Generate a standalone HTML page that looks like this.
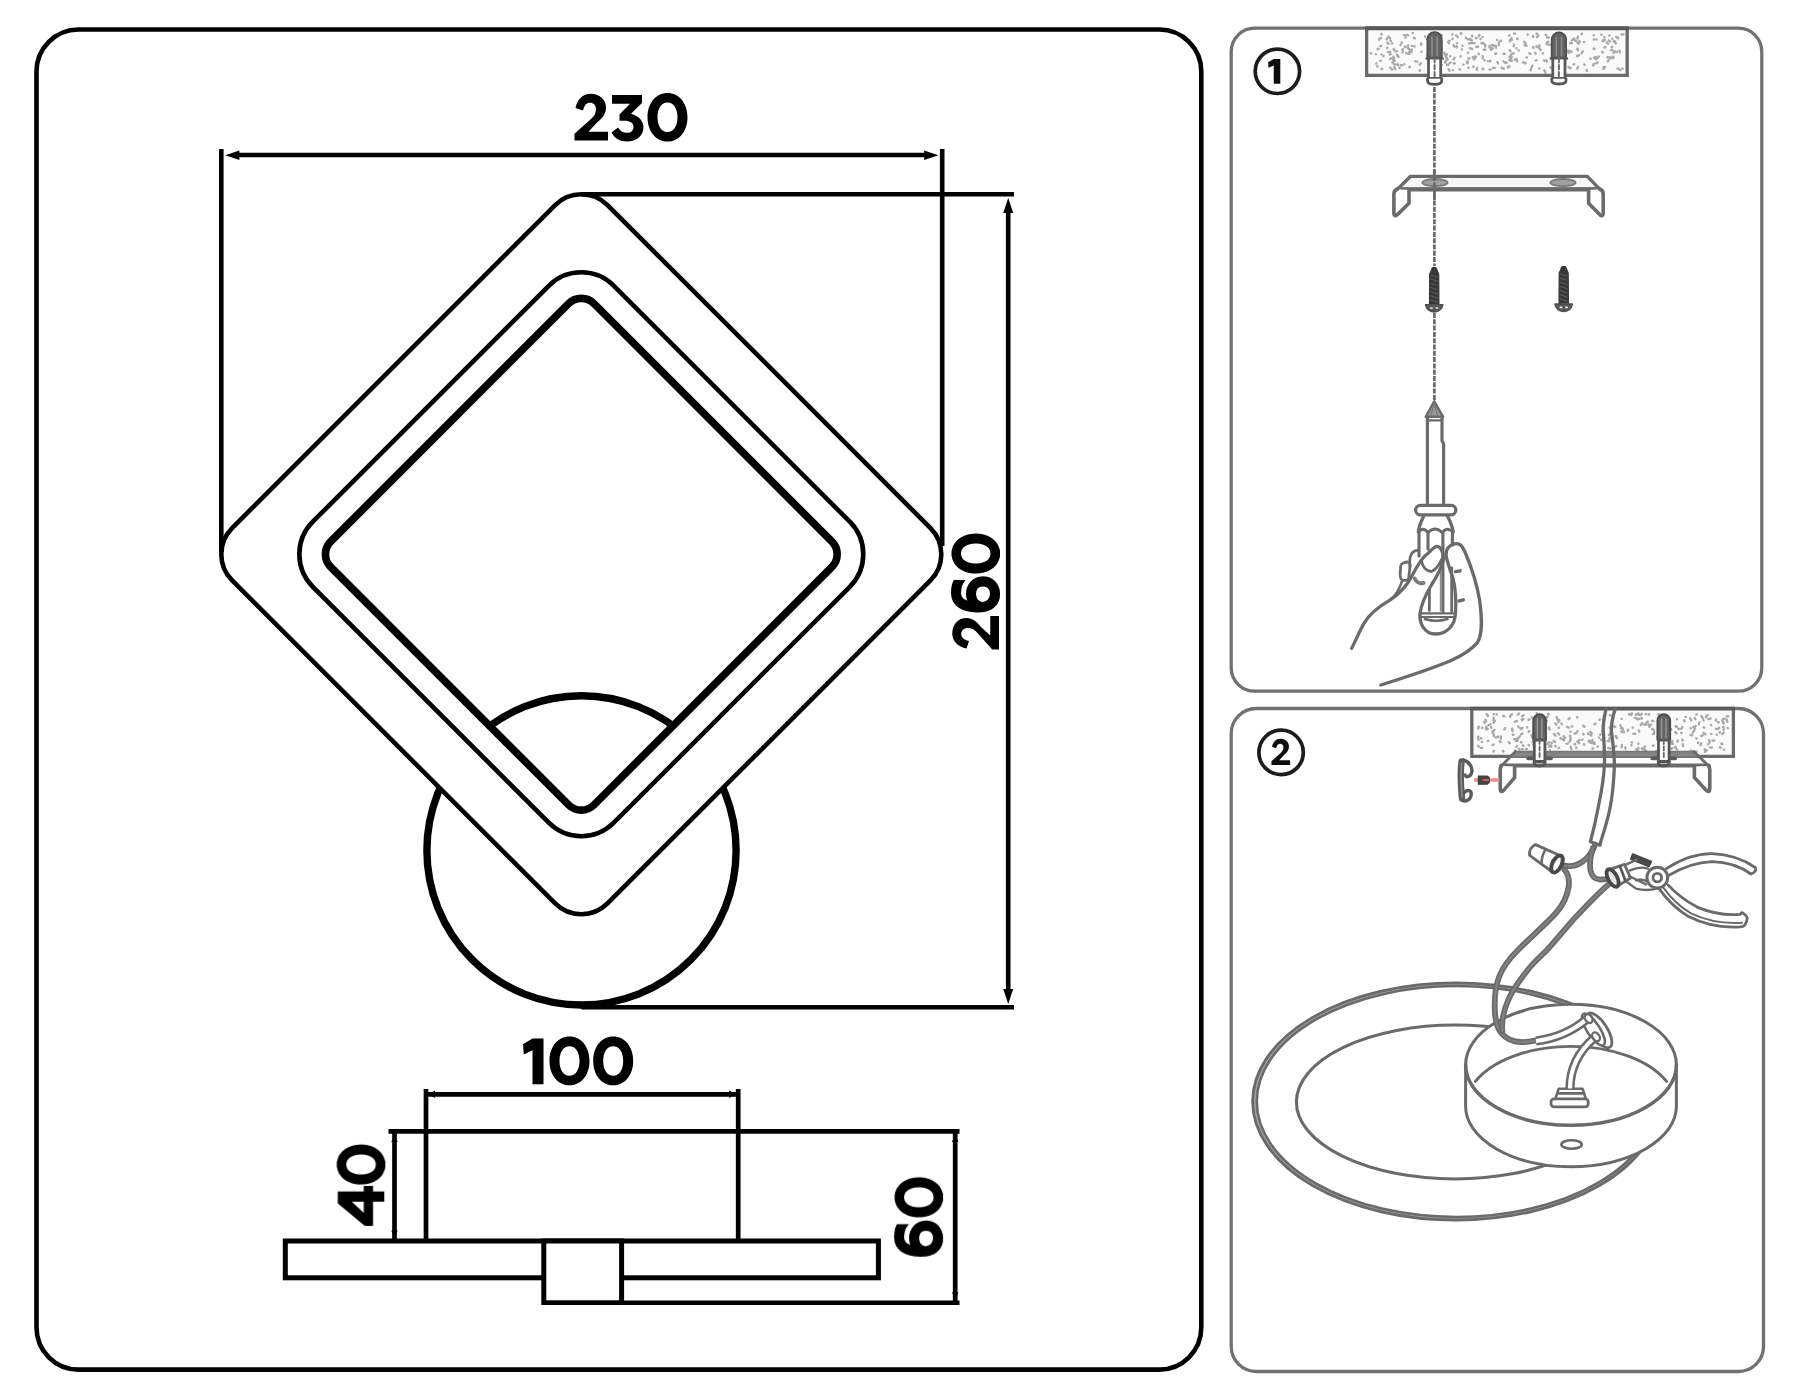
<!DOCTYPE html>
<html>
<head>
<meta charset="utf-8">
<title>Dimensions and installation</title>
<style>
html,body{margin:0;padding:0;background:#fff;}
body{width:1800px;height:1400px;overflow:hidden;font-family:"Liberation Sans",sans-serif;}
svg{display:block;position:absolute;left:0;top:0;}
</style>
</head>
<body>
<svg width="1800" height="1400" viewBox="0 0 1800 1400">
<defs>
  <!-- Gotham-like bold digits, origin at baseline-left -->
  <path id="g0" fill-rule="evenodd" d="M20,-47.6C31.5,-47.6 40,-37.5 40,-23.25C40,-9 31.5,1.1 20,1.1C8.5,1.1 0,-9 0,-23.25C0,-37.5 8.5,-47.6 20,-47.6ZM20,-38C14,-38 10,-32 10,-23.25C10,-14.5 14,-8.5 20,-8.5C26,-8.5 30,-14.5 30,-23.25C30,-32 26,-38 20,-38Z"/>
  <path id="g1" d="M9.5,-45.8H20.5V0H9.5V-34L0.8,-29.8L0,-40Z"/>
  <path id="g2" d="M1.5,-32.5C3,-41 9,-46.8 16.5,-46.8C25.5,-46.8 32,-41 32,-33C32,-27 29,-23 23,-18L14.5,-8.7H34V0H0.5V-6.8L17,-21.5C20.5,-24.5 22,-27.5 22,-31.5C22,-35 19.5,-37.7 16,-37.7C12.5,-37.7 10.5,-35.5 9,-30Z"/>
  <path id="g3" d="M0.5,-45.5H30.5V-37.5L19.5,-26.8C27,-24.8 32,-20 32,-13C32,-5 25,1 15.5,1C8.5,1 3,-2 0,-8L6.5,-13C8.5,-9.5 11.5,-7.7 15.5,-7.7C19.5,-7.7 22,-10 22,-13.5C22,-17.5 18.5,-19.7 13,-19.7H8V-26L18.5,-36.8H0.5Z"/>
  <path id="g4" fill-rule="evenodd" d="M22.5,-46.5H34.4V-20.5H40V-11.2H34.4V0H24.2V-11.2H0V-19.5ZM24.2,-32.5V-20.5H13Z"/>
  <clipPath id="c6"><path d="M-2,-52H32.6V-31H40V4H-2Z"/></clipPath>
  <g id="g6"><path clip-path="url(#c6)" fill="none" stroke="#000" stroke-width="10.2" d="M35.5,-37.4L32.5,-39.6C29,-42 24.5,-43 19.5,-43C10,-43 5.1,-34.5 5.1,-21C5.1,-10 10,-4 18.6,-4C26,-4 31.1,-9 31.1,-16C31.1,-23 26,-28 18.6,-28C12,-28 7,-24 5.5,-18"/></g>
  <filter id="soft" x="-2%" y="-2%" width="104%" height="104%"><feGaussianBlur stdDeviation="0.55"/></filter>
  <filter id="soft2" x="-1%" y="-1%" width="102%" height="102%"><feGaussianBlur stdDeviation="0.4"/></filter>
</defs>
<rect x="0" y="0" width="1800" height="1400" fill="#fff"/>

<!-- ============ LEFT: dimension drawing ============ -->
<g id="left" fill="none" stroke="#000" stroke-width="4.6" filter="url(#soft2)">
  <rect x="36.5" y="29.5" width="1164.8" height="1340.1" rx="42" ry="42"/>

  <!-- base disc -->
  <circle cx="581.5" cy="850.4" r="154.6" stroke-width="7.4"/>
  <!-- diamond band (opaque) -->
  <path fill="#fff" stroke="none" fill-rule="evenodd" d="M581.3,179.6L956,554.25L581.3,928.9L206.6,554.25ZM581.3,296L839.5,554.25L581.3,812.5L323,554.25Z"/>
  <g transform="rotate(45 581.3 554.25)">
    <rect x="315.9" y="288.85" width="530.8" height="530.8" rx="37"/>
    <rect x="368.45" y="341.4" width="425.7" height="425.7" rx="46"/>
    <rect x="395.1" y="368.05" width="372.4" height="372.4" rx="18" stroke-width="7.6"/>
  </g>

  <!-- 230 dimension -->
  <path d="M221.3,149V552"/>
  <path d="M942.2,149V546"/>
  <path d="M238,155H926"/>
  <path fill="#000" stroke="none" d="M225.2,155.2L239.4,150.4V160Z"/>
  <path fill="#000" stroke="none" d="M938.4,155.2L924.2,150.4V160Z"/>

  <!-- 260 dimension -->
  <path d="M581.3,194.3H1014"/>
  <path d="M581.5,1007.2H1014"/>
  <path d="M1008.2,211V990"/>
  <path fill="#000" stroke="none" d="M1008.2,198L1013.2,213H1003.2Z"/>
  <path fill="#000" stroke="none" d="M1008.2,1004L1013.2,989H1003.2Z"/>
</g>

<!-- side view -->
<g id="side" fill="none" stroke="#000" stroke-width="5" filter="url(#soft2)">
  <rect x="285.3" y="1241" width="593.1" height="36.8" fill="#fff"/>
  <rect x="543.8" y="1241" width="77.8" height="61.8" fill="#fff"/>
  <g stroke-width="4.7">
    <path d="M426,1089V1241"/>
    <path d="M738.2,1089V1241"/>
    <path d="M426,1094.3H738"/>
    <path d="M388.5,1131.4H959.5"/>
    <path d="M621.6,1302.8H959.5"/>
    <path d="M394.5,1131.4V1241"/>
    <path d="M955.2,1131.4V1302.8"/>
  </g>
  <g fill="#000" stroke="none">
    <path d="M428.4,1094.3L435,1090.6V1098Z"/>
    <path d="M735.8,1094.3L729.2,1090.6V1098Z"/>
    <path d="M394.5,1134L397.7,1142H391.3Z"/>
    <path d="M394.5,1238.5L397.7,1230.5H391.3Z"/>
    <path d="M955.2,1134L958.4,1142H952Z"/>
    <path d="M955.2,1300.3L958.4,1292.3H952Z"/>
  </g>
</g>

<!-- digits -->
<g id="digits" fill="#000" filter="url(#soft2)">
  <g transform="translate(574 140.5)"><use href="#g2"/><use href="#g3" x="37.5"/><use href="#g0" x="73.5"/></g>
  <g transform="translate(523 1084.2)"><use href="#g1"/><use href="#g0" x="26.5"/><use href="#g0" x="70.2"/></g>
  <g transform="translate(999 650) rotate(-90)"><use href="#g2"/><use href="#g6" x="37.5"/><use href="#g0" x="76.5"/></g>
  <g transform="translate(384.3 1225.9) rotate(-90)"><use href="#g4"/><use href="#g0" x="41.4"/></g>
  <g transform="translate(942.1 1256.8) rotate(-90)"><use href="#g6"/><use href="#g0" x="39.5"/></g>
</g>

<!--RIGHT-->
<g id="right" fill="none" stroke="#6b6b6b" stroke-width="3.3" stroke-linecap="round" stroke-linejoin="round" filter="url(#soft)">
<!-- panel 1 -->
<rect x="1231.2" y="28.2" width="530.6" height="663" rx="23.5" stroke-width="3.3" stroke="#717171"/>
<rect x="1366.6" y="28.4" width="260.6" height="47" fill="#fafafa" stroke="none"/>
<path d="M1452.6,38.7l-0.1,0.2M1578.0,36.6l-0.5,1.7M1425.1,36.3l0.1,0.4M1393.9,49.1l-0.2,0.1M1609.8,57.0l-0.1,0.2M1516.4,48.1l-0.2,0.0M1511.3,38.1l0.5,1.7M1400.7,44.7l-0.3,0.2M1397.0,54.7l0.2,0.1M1509.0,35.4l0.4,0.1M1496.1,53.2l-0.9,0.8M1518.6,50.2l0.2,0.3M1547.1,42.3l-0.4,1.8M1495.8,46.1l0.3,1.8M1618.0,37.5l0.2,0.8M1409.3,51.6l2.4,0.3M1390.6,54.2l-0.6,0.5M1456.7,46.3l0.0,1.2M1388.3,36.6l1.6,1.8M1538.4,35.3l-1.4,1.9M1516.6,58.9l0.4,2.4M1468.2,58.4l1.2,0.1M1460.6,56.2l0.0,0.4M1564.6,37.9l0.9,0.8M1602.0,51.9l1.0,0.6M1509.5,66.6l-1.5,1.0M1441.2,48.8l0.5,1.1M1612.3,38.7l0.3,0.2M1536.9,33.5l-0.3,0.2M1437.2,33.2l0.2,0.8M1524.7,45.1l1.7,0.7M1610.5,57.9l-0.8,0.9M1597.7,62.6l-1.7,0.7M1469.9,48.2l2.3,0.8M1471.9,40.2l-1.2,0.1M1411.9,45.9l0.2,0.0M1513.8,53.4l-1.8,0.3M1377.4,66.2l-0.1,0.4M1530.9,69.3l-0.4,1.1M1402.0,65.3l-1.2,0.0M1492.1,44.9l2.2,1.0M1457.3,43.1l-0.3,0.2M1501.1,40.8l-0.8,0.1M1407.9,53.6l1.8,0.2M1446.1,57.4l0.8,0.2M1501.6,67.5l0.2,0.4M1505.2,62.6l0.2,0.3M1525.5,63.0l-0.3,0.3M1574.1,64.1l-0.3,0.3M1421.4,51.7l-0.1,0.1M1570.1,50.9l1.5,1.0M1612.0,50.0l-0.8,0.2M1611.7,46.9l0.3,0.3M1489.5,45.8l0.1,1.8M1582.8,51.2l-1.1,2.1M1392.4,58.1l-2.3,0.7M1560.0,51.2l2.0,1.3M1454.8,63.4l-1.2,0.1M1487.7,61.2l0.4,0.1M1413.8,37.8l1.1,0.5M1574.2,38.6l-1.0,0.6M1536.6,46.3l-0.1,0.4M1376.4,63.4l-0.1,0.2M1503.7,68.5l0.1,0.4M1579.2,41.0l0.6,0.6M1497.3,62.0l0.9,1.5M1476.6,38.0l-0.8,0.2M1597.2,58.2l-1.5,1.0M1477.0,67.9l-0.0,1.8M1409.3,52.4l-0.4,0.2M1524.4,62.5l0.4,0.2M1490.3,60.6l-0.1,0.8M1542.9,53.2l0.0,0.2M1593.6,35.2l0.2,0.1M1565.6,52.3l-0.0,0.2M1482.7,56.3l-0.0,1.8M1421.2,43.5l-0.0,1.2M1499.0,42.4l-0.1,0.8M1603.5,66.9l1.0,0.7M1405.6,37.6l0.0,0.2M1540.1,49.3l0.6,0.5M1568.6,67.1l2.1,1.1M1533.2,46.9l0.3,0.3M1614.8,41.3l-1.2,0.2M1594.0,39.2l-0.2,0.3M1411.7,49.4l-0.0,0.8M1477.2,46.6l0.8,0.2M1375.9,54.1l0.0,0.2M1467.9,52.7l0.1,0.2M1399.4,67.9l0.2,0.1M1392.2,43.3l-0.4,0.1M1439.2,37.9l0.6,2.3M1577.4,42.8l1.6,0.8M1514.8,59.6l0.2,0.1M1572.5,40.0l-0.8,0.3M1607.5,57.1l-0.2,0.1M1524.3,41.5l0.1,0.1M1485.4,45.9l-0.1,0.8M1527.7,34.6l-0.1,0.2M1615.2,43.0l0.7,0.4M1529.4,53.2l1.0,0.7M1497.0,39.8l0.1,0.2M1621.6,34.4l1.8,0.1M1509.9,40.2l0.1,1.2M1397.8,64.1l0.3,1.2M1508.6,66.8l-0.8,0.1M1544.3,70.3l1.1,2.1M1554.7,38.3l-0.2,0.0M1581.9,33.5l-0.3,0.7M1479.5,35.1l-0.6,1.0M1590.4,58.5l0.3,0.3M1545.6,34.7l0.7,0.4M1483.3,43.0l-1.8,0.2M1452.5,34.3l-0.4,0.1M1460.9,33.0l0.4,1.1M1441.3,57.9l0.1,0.1M1393.9,64.0l1.6,0.8M1381.5,33.9l0.2,0.3M1392.3,69.4l-0.4,0.2M1536.7,60.2l-1.1,0.4M1563.6,60.4l0.0,0.8M1553.5,57.4l2.4,0.3M1595.8,56.8l-1.2,1.3M1406.1,52.9l-0.0,0.2M1579.3,55.2l-2.3,0.8M1611.9,57.4l0.2,0.1M1404.5,46.7l1.1,0.4M1511.7,56.9l-0.9,2.2M1432.6,43.0l0.0,0.2M1559.6,52.1l-0.3,2.4M1503.5,61.3l0.0,0.2M1584.2,41.9l-0.3,0.3M1557.4,70.1l0.0,1.2M1390.3,67.6l0.1,0.2M1526.5,57.4l0.4,0.1M1454.6,57.8l-1.0,1.5M1514.1,33.5l0.8,0.2M1616.1,36.8l0.9,0.8M1444.3,52.6l0.1,1.2M1564.3,70.7l-0.1,0.8M1617.5,68.6l1.2,0.1M1390.3,52.3l-0.8,0.0M1468.5,67.8l-0.2,0.0M1517.5,38.4l-0.1,0.8M1404.4,64.2l-0.0,0.2M1548.2,41.8l-1.1,0.4M1470.3,39.0l-2.4,0.4M1484.6,44.5l0.7,0.3M1465.8,37.6l0.4,0.7M1560.2,64.9l0.4,0.1M1550.7,67.3l0.5,0.6M1387.4,47.8l-0.2,0.1M1461.9,49.3l0.1,0.2M1441.7,35.0l-1.2,2.1M1606.8,42.5l1.2,1.3M1450.5,62.4l-0.9,0.7M1593.8,63.9l-0.7,1.6M1509.4,60.3l2.4,0.4M1474.5,56.4l0.7,0.3M1493.4,67.7l-0.1,0.4M1490.0,46.1l1.4,1.9M1557.2,57.8l0.1,0.4M1446.8,54.2l0.1,0.4M1533.1,35.9l-0.0,1.2M1509.7,50.2l0.6,1.0M1478.7,53.8l0.3,0.3M1457.2,36.5l0.6,0.5M1575.0,40.7l1.2,0.1M1467.5,61.3l0.6,0.5M1456.2,35.4l0.5,0.6M1402.7,52.1l-0.2,0.4M1394.3,67.1l0.9,2.2M1483.4,69.2l-0.2,0.1M1403.1,49.2l-0.9,0.8M1615.0,51.6l1.8,0.4M1586.6,69.9l0.1,0.1M1427.4,38.8l-0.2,0.0M1608.3,60.4l-0.5,1.1M1392.4,62.5l0.4,0.0M1429.6,68.0l-0.4,0.7M1613.5,56.8l-0.1,1.2M1547.0,37.3l1.8,0.4M1608.8,40.3l1.2,1.3M1371.3,53.4l-0.8,0.0M1612.7,57.5l-1.1,0.4M1503.6,53.8l1.2,0.1M1548.6,44.7l1.2,0.1M1594.0,57.6l0.4,0.1M1539.2,68.2l0.2,0.1M1546.3,60.3l0.5,1.1M1420.9,63.3l-1.2,1.3M1388.0,51.8l0.3,0.2M1429.2,41.4l-0.6,0.5M1398.5,56.7l-0.1,0.4M1493.2,67.6l1.8,0.3M1407.9,48.0l1.4,1.1M1406.8,35.0l1.2,0.2M1484.3,60.1l0.1,0.2M1622.4,68.4l0.2,0.3M1535.4,52.9l0.1,0.8M1538.4,47.4l0.3,0.7M1482.5,37.1l0.2,0.0M1459.6,69.3l0.4,0.2M1466.8,62.2l0.7,1.0M1393.1,59.8l1.5,1.0M1602.7,40.3l0.5,1.1M1378.6,48.6l-1.0,0.7M1381.2,34.3l0.2,0.0M1435.8,61.4l-0.8,0.3M1462.5,45.7l-0.2,0.0M1437.1,60.2l0.4,0.7M1445.9,60.4l-0.7,2.3M1609.5,35.5l-0.2,0.1M1490.7,69.4l-1.2,0.2M1570.0,67.7l-0.3,0.2M1604.9,40.0l-2.0,1.4M1447.4,59.3l0.4,0.2M1453.6,45.1l0.8,1.6M1390.9,40.5l-0.3,0.3M1473.8,57.7l0.1,1.8M1453.1,70.2l-0.2,0.1M1437.8,36.2l1.1,0.4M1620.1,69.9l0.3,0.2M1476.0,56.6l-1.2,2.0M1506.7,62.4l-0.6,0.5M1445.0,54.5l0.9,2.2M1436.6,49.7l0.3,0.2M1409.6,66.6l-0.2,0.8M1387.3,42.6l1.3,1.3M1429.3,63.7l-0.1,0.2M1396.8,51.0l-1.0,0.6M1601.4,34.5l0.1,0.2M1383.7,55.8l-0.3,0.2M1605.4,47.1l-1.1,0.5M1523.0,62.4l-0.1,0.2M1397.7,55.7l-0.1,0.4M1380.4,45.9l0.8,0.1M1380.6,60.8l-0.2,0.1M1577.3,48.5l0.7,1.7M1449.7,40.7l-1.4,1.1M1492.8,48.5l-1.9,1.4M1509.6,57.3l0.4,0.1M1471.2,43.3l-2.4,0.1M1448.5,69.2l1.0,1.5M1593.7,48.7l0.8,0.0M1533.4,47.8l0.1,0.2M1480.4,38.9l0.2,0.1M1473.4,66.5l0.0,0.4M1403.8,35.0l1.1,0.5M1393.4,56.6l0.7,1.7M1414.3,46.2l0.3,0.2M1604.2,37.1l0.0,0.4M1447.0,64.8l1.2,0.2M1450.3,56.1l-0.1,0.2M1598.9,56.6l-0.3,0.2M1532.4,65.6l-0.7,1.7M1584.3,64.5l0.3,0.2M1381.5,68.7l0.7,0.4M1402.0,42.4l-0.3,0.3M1381.4,54.4l-0.1,0.1M1539.3,45.3l0.4,1.1M1509.6,56.8l0.7,1.0M1448.7,42.5l0.3,0.8M1483.6,49.7l1.8,0.1M1619.5,50.7l0.3,1.8M1567.6,50.4l1.0,0.6M1471.9,35.6l0.3,0.7M1394.1,49.8l-0.0,0.2M1381.2,38.0l-0.8,0.2M1567.0,52.4l1.8,0.3M1596.5,57.8l-0.2,0.1M1587.0,70.9l-0.1,0.1M1419.8,70.3l0.0,0.4M1543.9,60.4l0.6,0.5M1524.8,42.6l0.9,1.5M1440.3,64.0l1.6,0.8M1614.0,51.2l-0.5,1.7M1498.5,45.1l0.4,0.0M1472.7,57.2l0.5,0.6M1596.6,39.4l-0.2,0.1M1564.6,34.8l-1.1,0.5M1510.9,55.0l-0.2,0.1M1434.5,53.4l-2.2,1.0M1572.0,43.1l-1.8,0.1M1407.8,45.6l0.4,0.1M1415.5,61.3l1.8,0.3M1434.9,57.3l-1.8,0.1M1605.0,67.0l-1.6,1.8M1379.5,38.7l-0.4,1.1M1476.3,46.8l1.2,0.2M1428.3,57.8l0.2,0.0M1513.9,44.5l-0.1,1.8M1427.5,55.2l-0.1,0.4M1463.3,64.5l0.2,0.1M1607.0,42.3l0.2,0.1M1387.0,38.5l-0.4,0.7M1472.3,43.0l2.4,0.1M1577.9,66.9l-0.5,1.7M1482.8,68.6l-0.3,0.3M1412.6,33.0l0.2,0.0" stroke="#a9a9a9" stroke-width="2.4"/>
<path d="M1366.6,28.4V75.3H1627.2V28.4" stroke-width="3.3" stroke-linejoin="miter" stroke-linecap="butt"/>
<path d="M1365,28.3H1628.8" stroke="#5a5a5a" stroke-width="4" stroke-linecap="butt"/>
<path d="M1427.3,58V39.3a7.3,7.3 0 0 1 14.6,0V58Z" fill="#636363" stroke="#4d4d4d" stroke-width="1.6"/>
<path d="M1432.0,37V57M1437.1999999999998,37V57" stroke="#8d8d8d" stroke-width="1.5" fill="none"/>
<rect x="1428.5" y="58" width="12.2" height="20.299999999999997" fill="#fff" stroke="#5a5a5a" stroke-width="2.8"/>
<path d="M1434.6,58V76.3" stroke="#6a6a6a" stroke-width="2" stroke-dasharray="4.5 2.5" fill="none"/>
<path d="M1426.5,58.5h2M1440.6999999999998,58.5h2" stroke="#555" stroke-width="2.4"/>
<path d="M1427.5,78.8v2q0,3.6000000000000085 7.1,3.6000000000000085q7.1,0 7.1,-3.6000000000000085v-2" fill="#fff" stroke="#575757" stroke-width="2.8"/>
<path d="M1551.6000000000001,58V39.699999999999996a7.3,7.3 0 0 1 14.6,0V58Z" fill="#636363" stroke="#4d4d4d" stroke-width="1.6"/>
<path d="M1556.3000000000002,37.4V57M1561.5,37.4V57" stroke="#8d8d8d" stroke-width="1.5" fill="none"/>
<rect x="1552.8000000000002" y="58" width="12.2" height="20.299999999999997" fill="#fff" stroke="#5a5a5a" stroke-width="2.8"/>
<path d="M1558.9,58V76.3" stroke="#6a6a6a" stroke-width="2" stroke-dasharray="4.5 2.5" fill="none"/>
<path d="M1550.8000000000002,58.5h2M1565.0,58.5h2" stroke="#555" stroke-width="2.4"/>
<path d="M1551.8000000000002,78.8v2q0,3.200000000000003 7.1,3.200000000000003q7.1,0 7.1,-3.200000000000003v-2" fill="#fff" stroke="#575757" stroke-width="2.8"/>
<path d="M1434.4,87V266M1434.4,313V401" stroke-width="2.7" stroke-dasharray="5 1.3" stroke-linecap="butt"/>
<path d="M1410.6,176.3H1587.3L1599.7,189.2H1397.4Z" fill="#f6f6f6"/>
<path d="M1397.2,189.3H1599.9" stroke-width="4.2"/>
<path d="M1397.4,189.3Q1393.9,190.2 1393.9,194V213.6Q1394.2,217.3 1397.4,214.6L1409,203.2V190" fill="#fff" stroke-width="3.6"/>
<path d="M1599.7,189.3Q1603.2,190.2 1603.2,194V213.6Q1602.9,217.3 1599.7,214.6L1588.6,203.2V190" fill="#fff" stroke-width="3.6"/>
<ellipse cx="1435" cy="182.6" rx="12.6" ry="3.6" fill="#a2a2a2" stroke="#7a7a7a" stroke-width="1.8"/>
<ellipse cx="1563" cy="182.6" rx="12.6" ry="3.6" fill="#a2a2a2" stroke="#7a7a7a" stroke-width="1.8"/>
<path d="M1434.4,170V200" stroke-width="2.7" stroke-dasharray="5 1.3" stroke-linecap="butt"/>
<path d="M1432.6000000000001,267.6H1435.8L1438.7,274.1L1438.9,304.4H1429.5L1429.7,274.1Z" fill="#383838" stroke="#383838" stroke-width="1.2"/>
<path d="M1430.8,274.8L1437.6000000000001,277.0M1430.8,279.0L1437.6000000000001,281.2M1430.8,283.2L1437.6000000000001,285.4M1430.8,287.4L1437.6000000000001,289.6M1430.8,291.6L1437.6000000000001,293.8M1430.8,295.8L1437.6000000000001,298.0M1430.8,300.0L1437.6000000000001,302.2" stroke="#5e5e5e" stroke-width="1" fill="none"/>
<path d="M1425.6000000000001,304.7H1442.8Q1441.8,311.29999999999995 1434.2,311.9Q1426.6000000000001,311.29999999999995 1425.6000000000001,304.7Z" fill="#5a5a5a" stroke="#505050" stroke-width="1.6"/>
<path d="M1430.8,308.0h1.2M1436.4,308.0h1.2" stroke="#eee" stroke-width="1.6"/>
<path d="M1562.1000000000001,266.6H1565.3L1568.2,273.1L1568.4,303.8H1559.0L1559.2,273.1Z" fill="#383838" stroke="#383838" stroke-width="1.2"/>
<path d="M1560.3,273.8L1567.1000000000001,276.0M1560.3,278.0L1567.1000000000001,280.2M1560.3,282.2L1567.1000000000001,284.4M1560.3,286.4L1567.1000000000001,288.6M1560.3,290.6L1567.1000000000001,292.8M1560.3,294.8L1567.1000000000001,297.0M1560.3,299.0L1567.1000000000001,301.2" stroke="#5e5e5e" stroke-width="1" fill="none"/>
<path d="M1555.1000000000001,304.1H1572.3Q1571.3,310.79999999999995 1563.7,311.4Q1556.1000000000001,310.79999999999995 1555.1000000000001,304.1Z" fill="#5a5a5a" stroke="#505050" stroke-width="1.6"/>
<path d="M1560.3,307.40000000000003h1.2M1565.9,307.40000000000003h1.2" stroke="#eee" stroke-width="1.6"/>
<path d="M1434.2,401.2L1443.1,416.8H1425.7Z" fill="#9a9a9a" stroke-width="2.4"/>
<path d="M1434.2,403L1431,416M1434.2,403L1437.6,416" stroke="#777" stroke-width="1.2"/>
<path d="M1425.9,417H1443M1428,420.3H1441.6" stroke-width="2.2"/>
<path d="M1427.4,417V504.5M1442,417V441L1443.6,443.5V504.5" stroke-width="3.2"/>
<rect x="1415.6" y="505.4" width="40.3" height="9.4" rx="4.7" fill="#fff" stroke-width="3.2"/>
<path d="M1423.6,516.2C1421.4,521 1419,526 1418.3,531.5M1447.6,516.2C1450,521 1452.4,526 1453.2,531.5"/>
<path d="M1418.3,532.4Q1423,526 1428,532.6Q1435,525.4 1442.1,532.6Q1447.6,526 1453.2,532.4" stroke-width="2.8"/>
<path d="M1419,532.5V556M1428,533V549M1442.9,533V611.5M1452.4,533V545" stroke-width="3.1"/>
<path d="M1440.6,560V611" stroke-width="1.6" stroke="#8a8a8a"/>
<path d="M1429.4,590V610.5M1451.7,568V611.5" stroke-width="2.8"/>
<path d="M1420.3,613.3H1455M1421.2,617H1454.4" stroke-width="2.2"/>
<path d="M1420,614C1419.4,623 1424,634 1435.6,634C1448,634 1455,624 1455.4,614" />
<path d="M1424.8,619Q1436,622.6 1447.6,619" stroke-width="2.4"/>
<path d="M1351.6,648.4C1356,640 1360,630 1364.3,622.9C1369,614 1378,607 1391,599.3C1400,593.5 1408,584 1413,574C1417,566 1421,558.5 1428,553.2C1431,550.5 1434,547.2 1436.3,546.5C1440.3,546 1443,551 1443.5,558C1443.6,563 1438,575 1431.4,585C1426,594 1421,605 1420,614"/>
<path d="M1421.4,560.2C1422,566.5 1426,571.2 1431.6,571.6C1436,569.4 1440,563.4 1442.7,557.6" stroke-width="2.8"/>
<path d="M1446,555C1445.8,549 1449.5,544.6 1456,543.6C1460.5,543 1462.6,546.5 1465,552C1471,566 1477,585 1479.6,600C1482,618 1483,634 1477.2,642.8C1470,651 1460,656.5 1450,661C1430,669.2 1400,679 1380.8,685"/>
<path d="M1446,555C1447,562 1451,572 1453,578.5C1455.6,588 1456.2,600 1455.5,613"/>
<path d="M1455.5,571.6l4.6,-0.8M1459,600.9l4.4,-1" stroke-width="3.4"/>
<path d="M1418.2,550.2C1414,550.6 1411.2,553 1410.2,557C1409.6,560.5 1409.4,563 1410,566.5" stroke-width="2.8"/>
<path d="M1400.7,566C1401,563.2 1405,562 1408,562C1410,562.4 1410.2,565 1410,567L1408.6,578.6C1408,580.6 1404,580.6 1402.4,580C1400.2,579 1400,575 1400.3,572Z" stroke-width="2.8"/>
<path d="M1402,581C1400,588 1396,595 1390.2,600" stroke-width="2.6"/>
<path d="M1414.6,578.5C1416.2,582.2 1420,584 1423.5,583" stroke-width="4" stroke="#7b7b7b"/>
<circle cx="1277.4" cy="71.3" r="22.2" stroke="#1c1c1c" stroke-width="3.7"/>
<use href="#g1" transform="translate(1268.1 83.8) scale(0.595 0.54)" fill="#0a0a0a" stroke="none"/>
<!-- panel 2 -->
<rect x="1231.2" y="708.5" width="532.3" height="663" rx="25" stroke-width="3.3" stroke="#717171"/>
<rect x="1471.8" y="708.8" width="261.6" height="47.6" fill="#fafafa" stroke="none"/>
<path d="M1517.7,739.9l-0.5,1.1M1689.3,751.6l0.1,1.8M1522.4,733.6l-0.2,0.1M1569.9,735.8l0.4,0.1M1709.1,740.1l0.5,2.4M1671.0,728.9l0.1,0.8M1612.7,740.1l-0.4,0.7M1481.9,741.9l0.2,0.1M1590.6,734.5l0.6,1.1M1514.2,738.9l0.0,0.4M1494.9,720.7l-1.2,2.1M1667.0,742.7l-0.6,2.3M1493.9,734.8l-0.2,1.2M1526.9,749.0l-1.1,0.4M1549.9,750.2l-0.0,0.8M1727.7,728.1l0.2,0.0M1516.2,740.9l-0.2,0.0M1600.4,734.5l-0.3,0.3M1620.6,725.4l-0.2,0.0M1521.7,719.6l0.4,0.7M1563.7,736.3l0.1,0.2M1518.7,749.0l1.0,0.6M1570.8,739.7l-1.3,2.0M1718.4,728.9l-2.4,0.1M1625.4,747.4l0.0,1.2M1644.7,749.5l1.3,1.3M1493.5,744.4l-0.9,0.8M1490.5,724.2l-2.1,1.1M1549.3,729.4l0.2,0.1M1696.2,738.2l0.4,0.2M1664.7,731.7l1.7,1.7M1609.0,741.4l0.4,0.0M1703.6,727.3l0.7,0.4M1628.1,729.6l-0.3,1.2M1553.9,733.8l1.6,1.8M1478.6,739.7l-0.2,0.0M1542.9,725.7l1.3,1.3M1582.5,739.6l-0.3,0.3M1509.8,716.7l0.2,0.1M1638.4,743.7l0.2,0.0M1641.8,717.9l-0.1,0.8M1576.3,747.6l-0.1,0.4M1522.5,727.7l-1.1,1.4M1667.5,736.6l-0.0,2.4M1671.9,743.8l1.2,0.0M1694.7,728.5l-0.5,2.3M1535.0,750.6l-0.8,2.3M1486.6,728.2l0.5,0.7M1682.9,744.3l0.1,1.8M1500.9,736.4l-0.1,2.4M1558.0,733.2l1.1,1.4M1609.0,734.9l0.8,0.2M1723.1,726.9l0.6,1.0M1503.2,716.0l1.2,0.3M1603.8,749.9l-1.3,2.0M1588.0,733.2l0.4,1.1M1493.8,714.0l-0.1,0.2M1538.5,740.5l-2.0,1.3M1584.0,744.1l0.2,0.8M1599.2,737.6l-0.2,0.0M1485.5,719.7l0.7,1.7M1701.3,743.4l-0.7,1.7M1645.0,746.5l-1.4,1.9M1542.3,731.8l0.0,0.8M1631.5,745.2l-0.2,0.0M1517.0,720.9l-2.2,0.9M1512.8,734.6l0.8,0.2M1632.9,727.6l-0.1,0.1M1726.7,719.5l0.5,2.3M1560.8,738.0l-0.4,0.7M1496.7,714.1l-0.0,0.4M1703.6,732.8l1.8,1.6M1546.2,727.8l-1.2,0.2M1577.6,731.0l-1.2,2.1M1520.1,728.0l0.3,0.3M1722.7,721.4l1.1,2.1M1712.5,740.5l1.8,0.1M1622.7,728.5l0.2,1.2M1536.8,713.3l-0.0,0.2M1722.1,720.4l0.1,0.2M1569.6,718.3l-1.0,0.7M1609.9,714.9l1.0,0.7M1699.3,722.5l-0.4,1.8M1710.1,747.5l1.8,0.1M1494.5,730.0l-2.1,1.2M1523.6,715.3l-1.5,1.0M1611.5,732.2l-1.3,2.0M1561.5,723.5l0.4,0.7M1637.9,713.4l-2.0,1.4M1493.1,733.0l-0.2,0.3M1567.1,726.7l1.6,0.9M1601.2,739.5l-0.2,0.4M1484.2,722.1l0.3,0.7M1579.3,739.9l-1.2,1.4M1583.1,725.7l1.4,1.1M1486.2,726.7l-0.2,2.4M1638.6,713.8l0.5,1.1M1517.0,746.2l-0.7,0.5M1647.9,721.5l-1.4,1.2M1610.9,748.4l-1.2,0.1M1529.2,731.1l-0.5,0.7M1478.8,726.7l-0.6,1.7M1482.3,727.7l-0.3,0.3M1711.5,733.9l-0.4,0.1M1533.3,733.1l0.7,0.9M1663.2,747.4l0.1,0.2M1536.7,736.4l1.1,2.1M1682.2,727.1l0.2,0.1M1706.7,750.2l-1.7,1.7M1663.2,741.9l1.4,1.1M1608.3,747.9l-0.0,0.2M1516.8,738.8l-0.4,1.1M1671.0,742.3l-0.4,0.7M1522.7,745.3l0.9,0.8M1543.2,734.0l0.0,0.2M1675.7,726.1l0.1,0.8M1662.3,741.5l-1.2,0.0M1512.0,714.3l-1.4,1.2M1551.0,745.5l0.2,1.2M1533.5,741.6l-1.0,0.7M1646.2,714.1l-0.4,0.1M1602.5,731.0l0.8,2.3M1589.3,741.0l0.8,0.2M1666.1,727.6l0.8,0.8M1676.6,749.2l0.6,0.5M1701.3,716.0l1.4,2.0M1508.9,742.3l-0.2,0.0M1648.6,724.5l0.3,0.3M1509.9,743.1l0.0,0.2M1649.7,726.1l-0.4,0.7M1478.3,745.9l0.5,0.6M1652.2,729.1l1.7,0.7M1641.7,713.8l-1.2,1.4M1654.2,732.0l-0.2,1.8M1570.6,737.8l-0.3,0.7M1512.1,728.7l0.4,2.4M1591.6,733.0l0.3,0.3M1481.0,738.1l0.1,0.4M1672.0,748.2l-0.6,0.6M1600.0,719.4l-0.6,0.5M1651.2,724.7l-1.2,0.1M1523.2,718.9l-0.2,0.4M1531.9,717.4l-0.0,0.2M1635.0,717.8l2.2,0.9M1653.0,734.0l0.4,0.1M1531.6,735.2l0.9,0.8M1621.9,744.9l-0.2,2.4M1681.6,728.6l-2.4,0.3M1566.5,743.6l1.2,0.1M1487.7,728.8l-1.0,0.7M1522.1,749.1l0.8,0.2M1672.4,741.1l-0.0,0.4M1549.1,727.5l0.0,0.8M1574.5,744.2l0.8,0.1M1624.0,732.0l-0.3,0.2M1666.6,718.8l0.1,0.2M1544.2,739.4l-0.2,0.1M1570.7,746.7l0.6,2.3M1502.9,750.9l0.6,0.5M1659.6,714.8l-0.7,1.7M1559.5,720.3l-1.2,0.3M1603.2,719.3l0.3,0.3M1695.7,726.1l-0.2,0.3M1691.1,750.6l0.6,0.6M1609.7,727.6l1.1,1.4M1703.4,720.1l0.2,0.4M1559.1,747.8l-0.4,0.2M1548.8,742.3l-1.4,2.0M1720.0,747.3l0.6,0.6M1558.9,727.8l-0.4,0.0M1658.5,714.1l-0.2,0.8M1529.6,751.4l-0.3,0.3M1675.8,747.0l-1.1,0.4M1723.5,732.5l-1.1,1.5M1529.5,719.5l-1.1,0.4M1644.0,724.5l1.1,0.5M1488.2,740.8l-0.3,0.3M1591.0,742.8l2.4,0.4M1558.9,719.9l-0.6,2.3M1588.8,740.8l0.3,1.2M1716.6,734.6l0.1,0.2M1653.6,745.6l-0.8,0.1M1593.2,748.4l-0.7,0.3M1690.1,718.3l1.1,2.1M1565.2,737.7l-0.7,0.4M1677.0,719.3l-0.2,0.0M1518.2,726.5l0.2,0.1M1486.7,714.1l1.3,2.0M1616.2,746.1l-1.6,0.8M1657.5,736.7l0.3,0.2M1710.9,725.0l0.3,0.3M1660.0,728.0l-0.6,0.5M1664.8,741.4l0.6,0.6M1533.6,745.0l-0.3,0.3M1728.0,716.3l-1.2,0.1M1592.6,740.0l-0.3,0.3M1658.0,730.1l1.2,0.2M1706.6,716.3l-0.7,0.9M1704.8,749.4l-0.2,0.1M1631.9,713.3l-0.6,0.5M1607.8,741.1l0.2,0.0M1696.5,751.5l-0.2,0.0M1621.3,727.2l-0.4,1.1M1675.3,732.1l1.2,1.3M1551.5,742.8l0.2,0.1M1710.6,718.5l-2.3,0.6M1555.3,723.2l0.8,1.6M1664.4,727.4l-0.0,0.2M1638.3,747.7l0.2,1.2M1549.7,745.6l-0.6,1.1M1546.7,720.6l-0.2,0.8M1631.8,742.1l-0.0,0.4M1636.1,749.2l1.6,1.8M1521.5,734.1l-0.4,0.1M1500.0,741.2l0.8,0.9M1583.1,733.9l0.6,0.6M1498.0,736.6l-0.2,0.1M1690.5,735.0l1.8,0.4M1519.1,713.4l-1.3,1.2M1721.5,743.5l0.9,0.8M1652.7,751.9l-1.1,0.6M1542.0,740.0l0.0,0.2M1656.0,750.8l0.6,2.3M1642.2,723.2l-1.5,1.8M1692.9,732.2l-0.1,0.4M1491.1,727.1l0.3,0.7M1610.0,733.0l0.3,0.3M1718.1,722.1l0.7,0.4M1641.8,748.4l1.5,0.9M1519.7,736.2l-1.5,1.8M1629.0,714.3l2.4,0.4M1597.7,746.5l-0.1,0.4M1719.0,727.7l0.1,0.2M1724.3,718.7l-1.2,0.2M1638.9,730.5l0.4,1.1M1562.7,739.2l1.4,1.1M1685.7,716.9l-0.2,0.0M1505.1,727.9l-0.8,1.6M1577.5,741.5l1.6,1.8M1707.6,715.1l-1.3,1.2M1621.7,718.7l-0.0,0.2M1556.7,717.0l0.8,2.3M1590.3,731.7l1.1,1.4M1678.7,729.0l-0.1,0.2M1671.2,741.9l-0.1,0.4M1595.5,723.6l-1.0,0.7M1534.8,749.6l-0.8,0.9M1572.2,726.4l-0.4,0.1M1555.2,745.8l0.5,0.6M1649.1,714.0l-0.3,0.7M1493.6,717.6l0.0,2.4M1594.8,743.8l-0.8,0.1M1574.6,733.5l0.4,0.1M1520.8,742.2l0.8,0.2M1635.1,733.7l-1.8,0.2M1577.2,717.1l-0.0,0.4M1498.0,737.1l-2.4,0.4M1719.7,732.2l0.1,0.4M1533.8,744.9l2.4,0.1M1660.7,715.0l-0.5,1.7M1652.2,720.7l1.1,0.4M1547.2,716.6l-0.2,0.8M1697.9,742.7l0.4,0.0M1708.2,744.1l0.0,0.2M1570.6,731.6l-0.1,0.2M1480.9,747.9l1.2,0.1M1615.6,736.0l1.3,2.0M1593.4,742.5l0.8,0.2M1682.2,739.8l0.5,0.6M1553.6,741.1l1.6,0.7M1702.6,735.2l-1.5,0.9M1690.7,728.2l-0.0,0.2M1723.5,723.1l-0.1,0.2M1676.8,726.5l0.1,0.8M1493.9,750.8l-0.5,0.6M1537.7,738.9l0.3,0.3M1677.8,740.6l-0.5,1.1M1715.9,719.4l-0.1,1.2M1723.9,749.7l0.4,0.1M1541.9,714.6l-1.0,2.2M1621.6,731.6l-0.2,0.4M1527.2,727.3l0.0,0.2M1694.8,718.1l0.6,1.1M1645.8,723.9l0.3,0.7M1528.4,745.0l0.7,0.4M1696.7,714.3l-0.3,0.3M1609.7,737.8l-0.3,1.2M1531.8,736.3l0.9,1.6M1478.3,736.6l-0.3,1.2M1515.7,739.2l0.3,1.8M1515.1,750.6l0.5,2.4M1639.3,718.8l-1.7,0.7M1613.6,726.3l1.7,0.7M1723.6,729.6l0.1,0.1M1547.9,713.7l0.9,0.8M1684.1,720.3l0.6,1.0M1660.1,726.4l2.0,1.3M1693.6,726.9l-0.3,0.2M1681.6,733.0l-0.4,0.0M1658.6,732.1l-0.4,1.1" stroke="#a9a9a9" stroke-width="2.4"/>
<path d="M1471.8,708.8V756.4H1733.4V708.8" stroke-width="3.3" stroke-linejoin="miter" stroke-linecap="butt"/>
<path d="M1470.2,708.7H1735" stroke="#5a5a5a" stroke-width="3.8" stroke-linecap="butt"/>
<path d="M1515.3,751.6H1694L1699.6,757H1509.6Z" fill="#858585" stroke="#777" stroke-width="1.6"/>
<path d="M1515.3,751.6L1501.4,766M1694,751.6L1708.6,766" stroke-width="2.8"/>
<path d="M1501.2,765.6H1708.8" stroke-width="4"/>
<path d="M1501.4,766Q1500.2,767.2 1500.2,770V789Q1500.4,793.2 1503.6,790.4L1514.6,777.6V766.6" fill="#fff" stroke-width="3.6"/>
<path d="M1708.6,766Q1709.8,767.2 1709.8,770V789Q1709.6,793.2 1706.4,790.4L1694.4,777.6V766.6" fill="#fff" stroke-width="3.6"/>
<path d="M1533.1999999999998,740V720.6a6.4,6.4 0 0 1 12.8,0V740Z" fill="#636363" stroke="#4a4a4a" stroke-width="1.8"/>
<path d="M1537.3999999999999,719V739M1541.8,719V739" stroke="#9a9a9a" stroke-width="1.4"/>
<rect x="1534.3" y="740" width="10.6" height="21.5" fill="#fff" stroke="#555" stroke-width="2.8"/>
<path d="M1539.6,740V757" stroke="#666" stroke-width="1.8" stroke-dasharray="4 2.5"/>
<path d="M1534.0,762q0,4 5.6,4q5.6,0 5.6,-4" stroke="#555" stroke-width="2.8"/>
<path d="M1528.0,758.4l4.4,0M1546.8,758.4l4.4,0" stroke="#5c5c5c" stroke-width="3.6"/>
<path d="M1657.3999999999999,740V720.6a6.4,6.4 0 0 1 12.8,0V740Z" fill="#636363" stroke="#4a4a4a" stroke-width="1.8"/>
<path d="M1661.6,719V739M1666.0,719V739" stroke="#9a9a9a" stroke-width="1.4"/>
<rect x="1658.5" y="740" width="10.6" height="21.5" fill="#fff" stroke="#555" stroke-width="2.8"/>
<path d="M1663.8,740V757" stroke="#666" stroke-width="1.8" stroke-dasharray="4 2.5"/>
<path d="M1658.2,762q0,4 5.6,4q5.6,0 5.6,-4" stroke="#555" stroke-width="2.8"/>
<path d="M1652.2,758.4l4.4,0M1671.0,758.4l4.4,0" stroke="#5c5c5c" stroke-width="3.6"/>
<path d="M1461.6,761.5C1460.4,770 1460.6,785 1462,798.5" stroke="#5c5c5c" stroke-width="6.4"/>
<path d="M1461.6,763C1460.8,772 1461,785 1462.2,797" stroke="#8c8c8c" stroke-width="1.6"/>
<path d="M1463.4,760C1469.6,761.6 1473.4,768 1471.4,773.4C1469.8,777.4 1466,777.6 1465,775" stroke="#5c5c5c" stroke-width="3.4"/>
<path d="M1464.4,792.4C1467.6,789 1471.6,790.4 1471.2,794.6C1470.8,799 1466.6,802.4 1462.6,800.4" stroke="#5c5c5c" stroke-width="3.4"/>
<path d="M1474.2,780H1499.4" stroke="#f28e8e" stroke-width="3.6" stroke-linecap="butt"/>
<path d="M1478.4,776h8.6l2.2,1.6v5l-2.2,1.6h-8.6z" fill="#454545" stroke="#3c3c3c" stroke-width="1.2"/>
<path d="M1483,780h5.4" stroke="#e46a6a" stroke-width="1.4"/>
<ellipse cx="1456.2" cy="1101.5" rx="201.5" ry="117" stroke="#a0a0a0" stroke-width="3"/>
<ellipse cx="1456" cy="1101.5" rx="203.4" ry="118.6" stroke-width="2.8"/>
<ellipse cx="1456.4" cy="1101.5" rx="199.6" ry="115.4" stroke-width="2.5"/>
<ellipse cx="1455" cy="1102" rx="158.6" ry="77" stroke-width="3.1"/>
<path d="M1465.6,1064.8A105.4,60.5 0 0 1 1676.4,1064.8V1106.2A105.4,60.5 0 0 1 1465.6,1106.2Z" fill="#fff" stroke-width="3"/>
<path d="M1465.6,1064.8A105.4,60.5 0 0 0 1676.4,1064.8" stroke-width="3.5"/>
<path d="M1475.4,1081.4A105.4,60.5 0 0 1 1666.6,1081.4" stroke-width="2.9"/>
<ellipse cx="1571.6" cy="1144.5" rx="10.2" ry="4.3" stroke-width="2.6"/>
<path d="M1555.4,1098.6L1558.6,1088.8H1582.6L1585.8,1098.6M1557,1093.4H1584.4" fill="#fff" stroke-width="2.6"/>
<rect x="1551" y="1098.8" width="37.2" height="8" rx="3" fill="#fff" stroke-width="2.8"/>
<ellipse cx="1599" cy="1030.4" rx="8.2" ry="20" transform="rotate(-33 1599 1030.4)" fill="#fff" stroke-width="2.8"/>
<ellipse cx="1593.4" cy="1029.6" rx="6.4" ry="18.6" transform="rotate(-33 1593.4 1029.6)" fill="#fff" stroke-width="2.6"/>
<path d="M1606,708.8C1604,718 1602.6,725 1603.3,731.7C1604.3,745 1605,758 1604.2,768.3C1603,785 1600.6,795 1598.7,805C1596,820 1593,832 1590.4,841.7L1599.8,845" stroke-width="3.3"/>
<path d="M1615.2,708.8C1613,716 1611,724 1611.5,731.7C1613,745 1615,758 1614.3,768.3C1613.6,785 1612,797 1610.6,805C1608,820 1603.6,832 1599.8,845" stroke-width="3.3"/>
<path d="M1594.7,845.8C1592,853 1588,858 1582,862C1577,865.4 1571,867 1564.6,865.6" stroke="#6a6a6a" stroke-width="5.8"/><path d="M1594.7,845.8C1592,853 1588,858 1582,862C1577,865.4 1571,867 1564.6,865.6" stroke="#818181" stroke-width="2.2"/>
<path d="M1593,848C1590.4,856 1589.4,864 1590.4,870C1591.6,876 1595,879.3 1600,879.6L1606.6,879.2" stroke="#6a6a6a" stroke-width="5.8"/><path d="M1593,848C1590.4,856 1589.4,864 1590.4,870C1591.6,876 1595,879.3 1600,879.6L1606.6,879.2" stroke="#818181" stroke-width="2.2"/>
<path d="M1564.6,869.8C1568,874 1569.6,880 1568.6,887C1567,897 1563,905 1556,913C1546,924 1532,936 1518,950C1510,958 1503,967 1499.4,976C1495,987 1494.2,1000 1494.9,1012.5C1495.6,1022 1497.6,1029 1501.6,1033.4C1506,1038.6 1513,1041.8 1521,1042C1526,1042.2 1531,1041.6 1536.4,1040.4" stroke="#6a6a6a" stroke-width="5.8"/><path d="M1564.6,869.8C1568,874 1569.6,880 1568.6,887C1567,897 1563,905 1556,913C1546,924 1532,936 1518,950C1510,958 1503,967 1499.4,976C1495,987 1494.2,1000 1494.9,1012.5C1495.6,1022 1497.6,1029 1501.6,1033.4C1506,1038.6 1513,1041.8 1521,1042C1526,1042.2 1531,1041.6 1536.4,1040.4" stroke="#818181" stroke-width="2.2"/>
<path d="M1608.6,884.4C1598,893 1585,907 1573.3,919.6C1566,928 1556,940 1547,950C1538,959 1532,964 1527,971C1519,981 1513,990 1509.6,997C1505,1007 1501,1020 1502.4,1031" stroke="#6a6a6a" stroke-width="5.8"/><path d="M1608.6,884.4C1598,893 1585,907 1573.3,919.6C1566,928 1556,940 1547,950C1538,959 1532,964 1527,971C1519,981 1513,990 1509.6,997C1505,1007 1501,1020 1502.4,1031" stroke="#818181" stroke-width="2.2"/>
<path d="M1536,1041C1553,1039 1572,1031.4 1586.6,1019.4" stroke="#6a6a6a" stroke-width="9.2" stroke-linecap="butt"/><path d="M1536,1041C1553,1039 1572,1031.4 1586.6,1019.4" stroke="#fff" stroke-width="4.2" stroke-linecap="butt"/>
<path d="M1570,1088.6C1570,1070 1578,1052 1594.2,1038" stroke="#6a6a6a" stroke-width="9.2" stroke-linecap="butt"/><path d="M1570,1088.6C1570,1070 1578,1052 1594.2,1038" stroke="#fff" stroke-width="4.2" stroke-linecap="butt"/>
<ellipse cx="1588.6" cy="1018.6" rx="3.4" ry="4.8" transform="rotate(-35 1588.6 1018.6)" fill="#fff" stroke-width="2.4"/>
<ellipse cx="1596" cy="1036.8" rx="3.4" ry="4.8" transform="rotate(-35 1596 1036.8)" fill="#fff" stroke-width="2.4"/>
<path d="M1535.6,844.6L1560.4,855.8L1552.4,872L1529.6,855.4Q1528.6,848 1535.6,844.6Z" fill="#fff" stroke-width="2.8"/>
<path d="M1545.6,849.4Q1541.4,856 1541.6,864" stroke-width="2.6"/>
<ellipse cx="1557" cy="864" rx="4.6" ry="9.2" transform="rotate(26 1557 864)" fill="#fff" stroke="#4a4a4a" stroke-width="4"/>
<path d="M1609,869.6L1624.4,864.4L1630.6,878L1617,886.4Z" fill="#fff" stroke-width="2.8"/>
<ellipse cx="1612.6" cy="878" rx="4.6" ry="9.6" transform="rotate(-28 1612.6 878)" fill="#e8e8e8" stroke="#4a4a4a" stroke-width="3.8"/>
<path d="M1620,866.6Q1623,874 1625.4,881" stroke="#555" stroke-width="2.6"/>
<path d="M1632.6,854L1651.4,861.4L1649,866.4L1630.8,859.2Z" fill="#4a4a4a" stroke="#444" stroke-width="1.6"/>
<path d="M1626,864.6L1637,859.6M1630,870.4Q1640,866 1648,868.6M1627,882L1636,888.6Q1646,891.4 1657,888.6M1629,876L1646,884.4M1636,880.4Q1642,878 1648,882" stroke-width="2.4"/>
<path d="M1666.3,868.6Q1690,853.4 1712,853.6Q1737,854.6 1755.4,867.6Q1757,871.6 1751,874Q1735,862.2 1712,861.6Q1690,862.6 1668.9,875.4" fill="#fff" stroke-width="2.8"/>
<path d="M1668,884.9Q1680,898 1697.1,907.1Q1718,916 1740,914.4L1741.8,912.6Q1748.2,916 1747,919.4Q1746,924.6 1743,926.4L1740,926.9Q1712,928.6 1688.6,916.6Q1671.4,906 1659.4,889.1" fill="#fff" stroke-width="2.8"/>
<path d="M1663.4,887.6Q1675,904 1691,913.4Q1714,924.4 1742,922.8" stroke-width="2"/>
<circle cx="1657.3" cy="877.6" r="10.4" fill="#fff" stroke-width="3"/>
<circle cx="1657.3" cy="877.6" r="4.3" fill="#fff" stroke-width="2.8"/>
<circle cx="1281.1" cy="752.4" r="22.2" stroke="#1c1c1c" stroke-width="3.7"/>
<use href="#g2" transform="translate(1271.2 765.1) scale(0.556 0.565)" fill="#0a0a0a" stroke="none"/>
</g>
<!--/RIGHT-->
</svg>
</body>
</html>
